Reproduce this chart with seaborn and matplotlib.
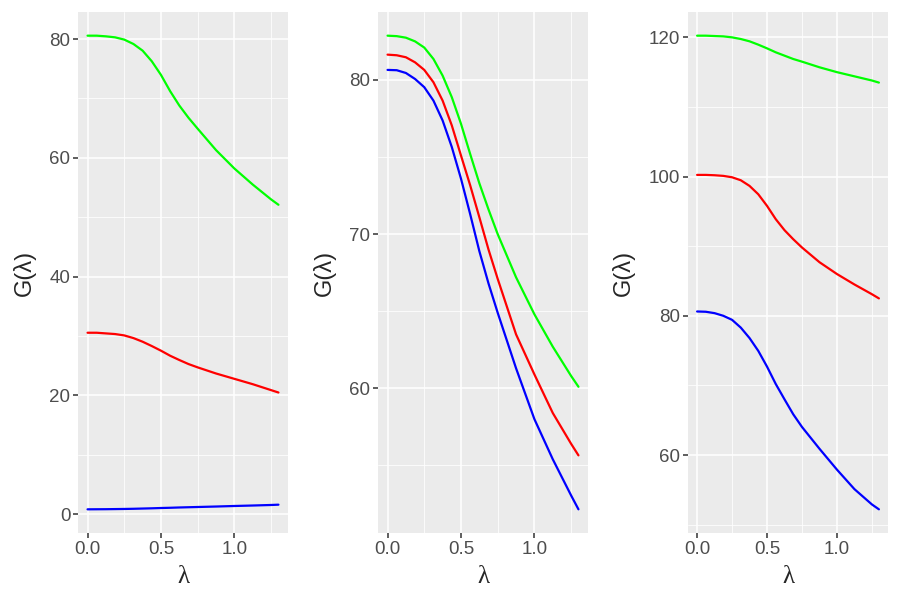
import numpy as np
import matplotlib
matplotlib.use("Agg")
import matplotlib.pyplot as plt
from matplotlib.ticker import MultipleLocator, FormatStrFormatter
import seaborn as sns
import pandas as pd

# λ grid shared by every curve (finer where the curves bend)
lam = [0.0, 0.0625, 0.125, 0.1875, 0.25, 0.3125, 0.375, 0.4375, 0.5, 0.5625,
       0.625, 0.6875, 0.75, 0.875, 1.0, 1.125, 1.25, 1.3]

# panel 1
p1_green = [80.56, 80.56, 80.45, 80.28, 79.9, 79.16, 78.04, 76.25, 73.96, 71.22,
            68.8, 66.74, 64.9, 61.3, 58.2, 55.5, 53.0, 52.1]
p1_red = [30.56, 30.56, 30.45, 30.34, 30.11, 29.66, 29.05, 28.32, 27.54, 26.69,
          25.97, 25.29, 24.73, 23.7, 22.8, 21.9, 20.9, 20.5]
p1_blue = [0.84, 0.85, 0.86, 0.88, 0.9, 0.93, 0.97, 1.01, 1.06, 1.1,
           1.15, 1.19, 1.23, 1.31, 1.4, 1.48, 1.57, 1.62]

# panel 2
p2_green = [82.87, 82.84, 82.74, 82.5, 82.1, 81.36, 80.28, 78.88, 77.16, 75.2,
            73.3, 71.6, 70.0, 67.2, 64.8, 62.7, 60.8, 60.1]
p2_red = [81.64, 81.6, 81.47, 81.14, 80.65, 79.85, 78.66, 77.05, 75.1, 73.17,
          71.1, 69.0, 67.1, 63.5, 60.9, 58.4, 56.4, 55.65]
p2_blue = [80.65, 80.63, 80.45, 80.06, 79.53, 78.66, 77.37, 75.65, 73.6, 71.3,
           68.9, 66.8, 64.9, 61.3, 58.0, 55.4, 53.05, 52.15]

# panel 3
p3_green = [120.24, 120.24, 120.19, 120.14, 120.0, 119.76, 119.43, 118.95, 118.42, 117.85,
            117.37, 116.89, 116.51, 115.7, 115.0, 114.4, 113.8, 113.5]
p3_red = [100.24, 100.24, 100.19, 100.1, 99.9, 99.47, 98.66, 97.46, 95.79, 93.88,
          92.3, 91.0, 89.81, 87.7, 86.0, 84.5, 83.1, 82.5]
p3_blue = [80.62, 80.58, 80.38, 80.0, 79.42, 78.3, 76.8, 74.96, 72.7, 70.2,
           68.0, 65.85, 64.03, 60.9, 57.9, 55.1, 52.9, 52.2]

panels = [
    {"green": p1_green, "red": p1_red, "blue": p1_blue, "major": 20},
    {"green": p2_green, "red": p2_red, "blue": p2_blue, "major": 10},
    {"green": p3_green, "red": p3_red, "blue": p3_blue, "major": 20},
]
palette = {"green": "#00FF00", "red": "#FF0000", "blue": "#0000FF"}

sns.set_theme(style="darkgrid", rc={
    "axes.facecolor": "#EBEBEB",
    "grid.color": "white",
    "axes.edgecolor": "#EBEBEB",
    "xtick.color": "#333333",
    "ytick.color": "#333333",
    "xtick.labelcolor": "#4D4D4D",
    "ytick.labelcolor": "#4D4D4D",
    "xtick.bottom": True,
    "ytick.left": True,
    "xtick.major.size": 3.5,
    "ytick.major.size": 3.5,
    "xtick.major.width": 1.1,
    "ytick.major.width": 1.1,
    "xtick.major.pad": 2,
    "ytick.major.pad": 2,
})
plt.rcParams["font.family"] = ["Liberation Sans", "DejaVu Sans"]

fig = plt.figure(figsize=(9, 6), dpi=100)
lefts = [78, 378, 688]
widths = [210, 210, 200]
for left, width, panel in zip(lefts, widths, panels):
    ax = fig.add_axes([left / 900, 67 / 600, width / 900, 521 / 600])
    rows = []
    for name in ["blue", "red", "green"]:
        for x, y in zip(lam, panel[name]):
            rows.append({"lam": x, "G": y, "curve": name})
    df = pd.DataFrame(rows)
    sns.lineplot(data=df, x="lam", y="G", hue="curve", palette=palette,
                 linewidth=1.6, legend=False, ax=ax)
    ax.margins(x=0.05, y=0.05)
    ax.xaxis.set_major_locator(MultipleLocator(0.5))
    ax.xaxis.set_minor_locator(MultipleLocator(0.25))
    ax.yaxis.set_major_locator(MultipleLocator(panel["major"]))
    ax.yaxis.set_minor_locator(MultipleLocator(panel["major"] / 2))
    ax.xaxis.set_major_formatter(FormatStrFormatter("%.1f"))
    ax.grid(which="major", color="white", linewidth=1.1)
    ax.grid(which="minor", color="white", linewidth=0.55)
    ax.tick_params(which="minor", length=0)
    ax.tick_params(labelsize=13.5)
    ax.set_xlabel("λ", fontsize=18, family=["Liberation Serif", "DejaVu Serif"], labelpad=6)
    ax.set_ylabel("G(λ)", fontsize=17, labelpad=10)
    for s in ax.spines.values():
        s.set_visible(False)

fig.savefig("out.png", dpi=100, facecolor="white")
